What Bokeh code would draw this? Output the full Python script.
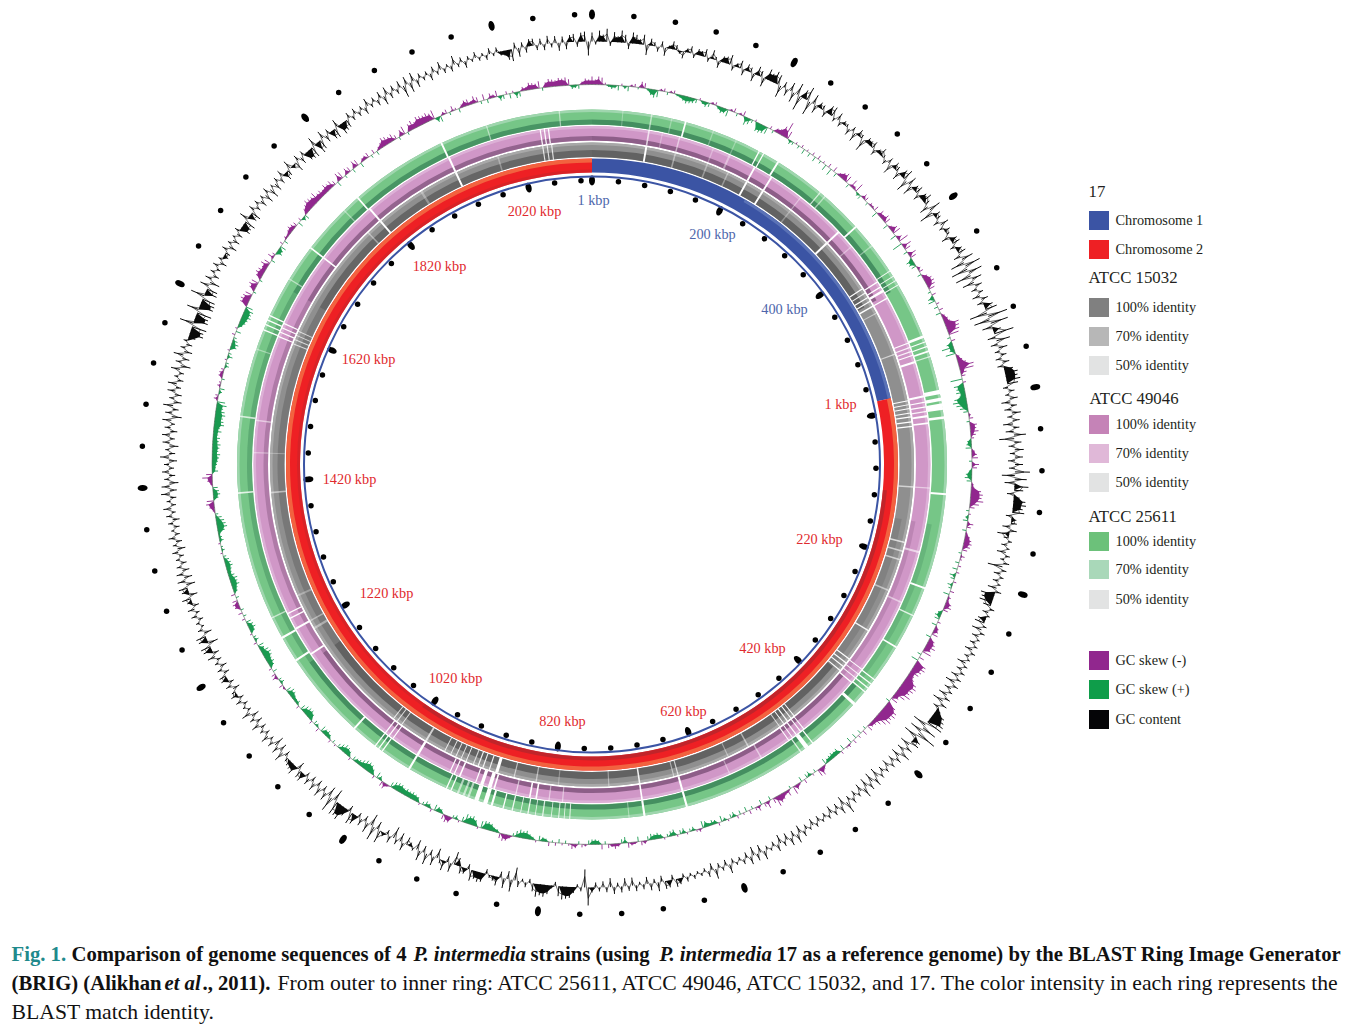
import numpy as np
from bokeh.core.properties import value
from bokeh.embed import file_html
from bokeh.models import Range1d
from bokeh.plotting import figure
from bokeh.resources import INLINE

# ---------- data ----------
# GC content, signed deflection (outward +) every 0.5 degrees, clockwise from 12 o'clock
gc_000 = [9,-3,11,7,13,-4,10,6,12,8,-6,11,9,5,10,-10,7,4,-5,6,-8,3,8,5,-3,-7,4,7,-4,6,5,8,-4,9,3,-7,6,7,10,-5,4,8,-6,7,5,-8,9,6,-9,11,8,12,10,-12,6,-7,9,-10,12,-15]
gc_030 = [9,14,-14,10,-8,6,5,-6,9,10,-4,8,-5,4,3,-7,5,-9,7,4,-12,6,5,7,-6,4,8,3,-5,6,-10,7,5,-8,8,11,-12,9,-10,6,8,-6,7,10,5,-9,12,-14,7,5,-6,9,-4,6,3,-8,7,8,-5,6]
gc_060 = [8,-7,12,-14,16,-17,14,-16,10,-12,7,-6,5,-8,7,-6,9,12,-18,20,-16,18,-10,8,20,-8,14,-7,9,-5,6,-6,7,-6,9,13,12,14,11,-5,6,-4,8,-9,6,-7,9,-5,7,-10,6,-8,12,-15,7,-6,9,-5,8,-7]
gc_090 = [8,-6,15,-13,12,-10,14,9,-7,6,12,13,10,12,-6,5,6,-8,7,-12,-5,4,-6,3,-9,5,-4,6,-15,5,-7,4,-6,3,-9,6,-14,-12,-13,-8,5,-6,3,-8,-10,4,-10,5,-7,3,-6,4,-8,5,-5,3,-9,4,-6,5]
gc_120 = [-8,5,-10,6,-7,4,-9,6,-11,7,-6,5,12,14,16,17,-14,15,-12,20,-14,8,9,-10,7,-8,10,-9,6,-7,5,-8,4,-6,5,-10,8,-10,7,-9,10,-8,4,-6,6,-5,12,-9,8,-6,5,-8,4,-5,3,-6,4,-7,3,-5]
gc_150 = [6,-8,9,-6,8,-7,5,-9,7,-5,3,-4,9,-8,7,-9,8,-6,5,-4,3,-5,9,-6,4,-5,10,-7,6,-4,3,-3,4,-3,5,-4,6,8,-5,7,8,-6,9,-4,7,-7,5,-3,6,-8,5,-8,6,-4,7,-9,5,-6,4,-5]
gc_180 = [5,18,-18,4,-3,6,11,12,13,10,-4,3,9,12,11,13,8,-4,5,-3,6,-13,12,-8,10,-6,9,5,3,-5,9,10,8,11,-5,6,7,-8,-13,9,-6,10,4,-10,9,-6,11,-7,10,-10,3,-4,-8,8,-9,5,-12,7,-5,4]
gc_210 = [13,-8,14,-12,10,-6,7,-5,10,12,-6,8,15,13,14,-12,15,-10,8,-6,9,-7,8,-6,7,-5,9,8,-8,10,7,6,4,-6,10,-8,7,-10,6,-4,8,-5,4,-6,8,-7,5,-8,9,-4,3,-5,6,-5,7,4,-7,6,-5,7]
gc_240 = [7,-6,5,-7,4,-5,8,-6,9,10,-10,9,10,-8,5,-3,4,-5,6,-4,7,-6,5,9,-8,7,9,-9,8,-8,7,-7,5,-6,4,-5,6,-8,4,-6,7,-5,3,-6,5,-7,6,-4,8,-5,4,-6,9,-7,8,-9,5,-6,7,-5]
gc_270 = [5,-8,9,-6,4,-9,7,-5,8,-7,6,-4,9,-10,7,-6,10,-8,5,-7,8,-5,9,-6,4,-5,9,-10,6,-7,10,-8,5,-6,4,-7,-14,-13,-15,14,-14,-13,-15,12,-14,-14,-13,14,-12,-11,9,-10,7,-6,5,-4,6,-7,4,-5]
gc_300 = [-5,6,-8,4,-7,3,-6,5,-10,-9,-11,9,-8,-10,6,-5,5,-7,4,-9,6,-10,3,-8,5,-6,7,-8,-6,9,-4,-10,6,-7,5,-9,-10,-11,9,-12,-10,8,-7,5,-9,-10,8,-11,-9,-8,6,-5,6,-5,4,-7,8,-4,5,-6]
gc_330 = [7,-9,8,-6,6,-5,7,-12,8,-10,9,-8,5,-4,4,-7,6,-4,8,-5,3,-6,9,-4,5,-7,4,-3,6,-4,3,-5,6,-3,5,-4,-5,-10,-12,6,-9,5,-6,7,7,-5,6,-6,8,-4,7,-8,6,-7,7,8,-5,9,10,-14]
# GC skew, signed deflection: negative skew outward (+), positive skew inward (-)
sk_000 = [8,5,8,7,2,-2,-4,-3,-5,2,-3,-5,2,3,-2,6,5,-2,-6,-8,-7,2,3,-3,2,3,-2,-3,-5,-7,-6,-5,-4,2,-3,-5,-4,2,3,-3,-6,-5,-7,2,4,-3,2,5,-8,-6,-3,2,-9,-9,-8,-7,3,-3,4,5]
sk_030 = [10,16,8,-4,-3,2,-3,3,-5,2,-4,3,-5,4,-3,2,-6,4,-7,5,-4,3,6,8,7,-4,8,3,9,-3,-4,5,4,-3,3,2,5,-6,6,4,7,6,-5,3,7,8,-6,5,10,-10,9,6,-4,8,6,-7,-6,-5,3,4]
sk_060 = [-4,5,8,9,8,6,-3,4,-6,-7,3,-4,4,-5,3,5,6,14,13,12,10,-3,4,-6,-12,-5,-10,3,5,8,15,14,6,4,-12,3,-10,-8,-9,-6,-12,-14,-11,-8,-5,2,4,-3,7,6,8,5,3,-4,-5,-6,3,5,6,-3]
sk_090 = [7,5,-3,-6,-7,-5,2,3,10,12,11,13,9,5,-3,2,-3,-5,6,4,-4,2,5,7,8,7,5,-3,4,2,-4,3,-5,3,-6,-4,3,-5,-3,4,-6,3,2,6,7,5,-4,-6,-5,3,-5,4,5,6,-5,6,8,10,7,9]
sk_120 = [-4,5,-7,11,12,10,9,6,8,13,15,14,12,15,11,6,7,-4,10,14,15,13,15,12,8,5,4,6,-3,5,-4,3,-5,4,-6,3,2,-5,3,-6,-5,-6,-5,-4,-6,3,8,7,-3,2,-5,-4,4,-5,2,5,8,-3,6,3]
sk_150 = [6,8,10,5,-4,7,4,-5,5,3,-3,4,-5,2,-4,3,-5,-4,2,-3,-6,3,-4,-5,-3,-6,-7,3,2,-4,-3,2,-5,-4,2,-6,-5,-3,2,-4,-6,-5,-6,-4,3,4,-5,2,3,5,-6,-4,3,5,3,4,-3,5,-4,-5]
sk_180 = [-5,-4,2,3,-3,4,5,2,-3,2,-4,3,-2,4,-3,-4,-5,2,-3,-5,-8,-7,-8,-6,-3,3,6,7,5,-3,-4,-7,-8,-8,-7,2,-6,-9,-8,-9,-5,2,-4,-3,6,7,5,-4,-5,-6,3,-4,-5,-3,2,-5,-6,-7,-6,-7]
sk_210 = [-6,-8,-8,-7,-5,2,6,5,-4,-6,3,-5,-8,-9,-9,-7,-5,-4,-4,3,-5,-7,-8,-6,-4,2,-3,3,-4,-6,-5,-6,4,-3,-4,3,-6,-8,-8,-7,-5,3,-4,-3,-4,-6,-7,-5,2,4,-4,-3,5,4,-4,3,-5,-7,-6,-8]
sk_240 = [-9,-8,-5,-6,3,-4,-3,2,-5,-7,-6,-5,3,-3,4,-3,5,6,5,-3,4,-4,-5,-8,-7,-8,-6,-4,-5,-7,-6,-5,-3,2,-3,-2,2,-4,-3,-2,-7,-10,-9,-8,-6,-3,2,5,8,7,-5,-7,-6,-5,2,5,10,6,-6,-4]
sk_270 = [-5,-6,-7,-8,-6,-7,-8,-6,-7,-5,-8,-6,-10,-9,-8,-10,-9,-7,-10,-8,4,3,-3,-5,3,2,-3,4,4,3,-4,-3,2,-5,-3,2,-6,-7,-5,-3,3,-5,2,-4,-6,-7,-9,-8,-9,-7,8,9,8,7,-3,6,8,7,-3,6]
sk_300 = [8,7,5,8,6,-4,6,3,-6,-5,-6,3,-4,3,2,4,6,5,4,-5,3,-4,-5,5,7,10,9,8,10,6,7,5,8,6,7,4,-5,8,7,-3,6,5,-4,7,6,-5,3,4,5,-3,4,-4,3,5,9,8,6,7,4,-3]
sk_330 = [6,8,-3,7,9,6,10,9,8,9,7,9,-5,-6,3,4,-3,5,2,-4,3,6,6,3,7,5,-3,6,-4,5,3,6,-5,-4,3,-5,2,-6,-5,4,3,7,6,5,7,-3,5,8,7,6,8,7,8,6,-4,-3,-4,3,6,5]

# BLAST gaps per ring: (clock angle, width in degrees, opacity)
gaps_green = [(9.7,.35,.55),(15.3,.4,1),(13,.3,.3),(5,.25,.3),(20,.3,.3),(24,.3,.3),(28.1,.3,1),(28.9,.3,1),(31.6,.45,1),(40,.3,.7),(41,.3,.5),(48,.45,1),(52,.3,.4),(57,.25,.9),(58,.25,.9),(58.8,.25,.9),(59.6,.25,.9),(68.9,.6,1),(69.8,.3,1),(70.6,.3,1),(71.4,.4,1),(72.3,.3,.7),(78.2,1.0,1),(79.4,.8,1),(80.6,1.5,1),(82.4,.6,1),(94.8,.5,1),(110.4,.45,1),(115.2,.35,.8),(121,.4,1),(127.3,.3,1),(128.2,.3,1),(129,.3,1),(129.8,.3,1),(132.4,.7,1),(141.6,.3,1),(142.8,1.0,1),(144,.3,.8),(164.5,.5,1),(171.5,.5,1),(174,.25,.4),(183.6,.25,.8),(184.5,.2,.8),(185.4,.25,.8),(186.6,.2,.8),(188,.3,.8),(189.2,.2,.8),(190.4,.3,.9),(191.6,.2,.9),(193,.3,.9),(194.5,.3,1),(196.4,.5,1),(197.5,1.0,1),(199,1.0,1),(200.4,.5,.6),(201.2,.5,.6),(202.2,.5,.6),(203.4,.3,1),(204.2,.3,1),(211,.5,1),(216.2,.3,1),(216.9,.3,1),(217.6,.3,1),(222,.45,1),(236.5,.5,1),(240.8,.5,1),(244.4,.35,.6),(265.4,.4,.8),(277.8,.4,.7),(289,.3,.4),(292.3,.3,1),(293.2,.3,1),(294,.3,1),(294.8,.3,1),(301.5,.3,.5),(307.6,.4,1),(315.7,.3,.4),(318.7,.4,1),(334.9,.45,1),(342.7,.3,.5),(354.7,.3,.5)]
gaps_pink = [(9.7,.4,.7),(15,.35,.5),(12,.3,.3),(21,.35,.3),(24,.5,.4),(28.7,.45,1),(32,.45,1),(38,.3,.4),(46.7,.5,1),(50,.3,.4),(57.4,.3,1),(58.4,.3,1),(59.2,.6,1),(60.6,.3,1),(69,.3,1),(69.8,.3,.9),(70.5,.3,.9),(71.2,.3,1),(72.4,.5,1),(78.4,.5,1),(79.4,.3,1),(80.2,.3,1),(81,.3,.9),(81.8,.5,1),(83,.4,1),(94,.3,.5),(105,.5,.6),(114,.4,.5),(127.2,.25,1),(128.2,.25,.9),(129,.25,.9),(130,.3,1),(141.3,.25,1),(142,.25,1),(142.9,.3,1),(143.7,.25,1),(144.5,.25,1),(150,.35,.5),(156,.3,.4),(164.5,.5,1),(171.5,.4,1),(185,.3,.5),(187.3,.3,.5),(189.5,.4,1),(190.6,.4,1),(193,.3,.6),(196.8,.4,1),(197.6,.9,1),(199,.8,1),(200.1,.3,1),(203,.4,1),(204,.3,1),(204.8,.3,1),(211,.6,1),(216,.3,1),(216.8,.3,1),(217.6,.3,1),(236,.45,1),(241,.5,1),(243,.3,1),(243.9,.3,1),(272,.3,.4),(277.5,.35,.5),(292.2,.3,1),(293,.3,1),(293.8,.3,1),(294.6,.3,1),(307.6,.4,1),(319,.5,1),(335,.5,1),(351.2,.3,1),(351.9,.3,1),(352.6,.3,1)]
gaps_grey = [(9.7,.5,1),(15,.4,.4),(21,.4,.35),(25,.4,.35),(28.7,.5,1),(32,.5,1),(38,.4,.3),(46.7,.55,1),(57,.3,1),(57.9,.3,.9),(58.8,.3,1),(59.6,.3,1),(60.6,.4,1),(62,.3,.5),(70,.35,.6),(78.6,.3,1),(79.3,.25,1),(80,.25,1),(80.8,.25,1),(81.5,.3,1),(82.4,.3,1),(83.2,.3,1),(94,.4,.6),(104,.4,.7),(105.6,.4,.6),(107.2,.4,.6),(113,.4,.5),(121,.35,.9),(127.1,.3,1),(128,.3,1),(128.8,.3,1),(129.7,.3,1),(141.2,.25,1),(141.9,.25,1),(142.7,.3,1),(143.5,.25,1),(144.4,.25,.7),(151,.4,.5),(155,.3,.4),(164.5,.3,.7),(165.3,.3,.5),(171.5,.4,.9),(177,.3,.4),(186,.3,.3),(190,.35,.5),(194,.3,.6),(197.2,.8,1),(198.6,.3,.9),(199.8,.3,.9),(200.7,.3,.9),(201.6,.3,.7),(203,.25,.9),(204,.25,.8),(205,.25,.8),(206,.25,.8),(207.2,.25,.8),(211,.5,.7),(216.2,.25,.8),(217.2,.25,.8),(218,.25,.8),(239.5,.6,.4),(241,.4,.4),(246,.5,.3),(265,.4,.5),(272,.3,.3),(292,.25,.7),(292.8,.25,.7),(293.6,.25,.7),(294.4,.25,.7),(316,.4,.4),(319,.5,1),(335,.5,1),(328,.6,.3),(343,.4,.3),(351.2,.3,.8),(352,.3,.8),(352.8,.3,.8)]

tick_step_kbp = 40
genome_kbp = 2697
chr1_end_deg = 77.5
map_labels = ["1 kbp","200 kbp","400 kbp","1 kbp","220 kbp","420 kbp","620 kbp","820 kbp","1020 kbp","1220 kbp","1420 kbp","1620 kbp","1820 kbp","2020 kbp"]
map_label_x = [593,712,784,840,819,762,683,562,455,386,349,368,439,534]
map_label_y = [199,233,308,403,538,647,710,720,677,592,478,358,265,210]
map_label_colors = ["#4e66ab"]*3 + ["#df2a2e"]*11

legend_heads = ["17","ATCC 15032","ATCC 49046","ATCC 25611"]
legend_heads_x = [1088,1088,1089,1088]
legend_heads_y = [191,277,398,516]
legend_rows = ["Chromosome 1","Chromosome 2","100% identity","70% identity","50% identity","100% identity","70% identity","50% identity","100% identity","70% identity","50% identity","GC skew (-)","GC skew (+)","GC content"]
legend_rows_y = [219,248,306,335,364,423,452,481,540,568,598,659,688,718]
legend_colors = ["#3b54a4","#ee2024","#808080","#b7b7b7","#e2e3e3","#c583b7","#e0b8d8","#e2e3e3","#6cc17a","#a9d8b9","#e2e3e3","#91278e","#0f9d4a","#050507"]

# ---------- page geometry ----------
W, H = 1362, 1027
CX, CY = 591.5, 464
def Y(py): return H - py
gc_r, sk_r = 423, 380

p = figure(width=W, height=H, x_range=Range1d(0, W), y_range=Range1d(0, H),
           toolbar_location=None, output_backend="svg", min_border=0)
p.axis.visible = False
p.grid.visible = False
p.outline_line_color = None
p.background_fill_color = "white"
p.border_fill_color = "white"

def ang(t):
    return np.pi / 2 - np.radians(np.asarray(t, dtype=float))
def polar(t, r):
    a = ang(t)
    return CX + np.asarray(r) * np.cos(a), Y(CY) + np.asarray(r) * np.sin(a)
def ring(r0, r1, t0, t1, color, alpha=1.0):
    p.annular_wedge(x=CX, y=Y(CY), inner_radius=r0, outer_radius=r1,
                    start_angle=float(ang(t0)), end_angle=float(ang(t1)), direction="clock",
                    fill_color=color, fill_alpha=alpha, line_color=None)

# scale dots
kb_per_deg = 200 / 26.7
ticks = np.arange(0, genome_kbp, tick_step_kbp)
big = ticks % 200 == 0
for r in (284, 450):
    xs, ys = polar(ticks[~big] / kb_per_deg, r)
    p.scatter(xs, ys, size=5.5, color="black", line_color=None)
    xs, ys = polar(ticks[big] / kb_per_deg, r)
    p.ellipse(xs, ys, width=10, height=6, angle=ang(ticks[big] / kb_per_deg), color="black", line_color=None)

# inner blue line
p.circle(x=CX, y=Y(CY), radius=288, fill_color=None, line_color="#3b54a4", line_width=2)

# chromosome ring
ring(292, 306, 0, chr1_end_deg, "#3b54a4")
ring(303, 306, 30, chr1_end_deg, "#5a72b6")
ring(292, 306, chr1_end_deg, 360, "#ee2024")
ring(302, 306, chr1_end_deg, 360, "#f2623f")
ring(292, 296, 95, 215, "#b8262b", 0.85)
ring(292, 295, 215, 360, "#c9252a", 0.6)

# BLAST rings: (inner radius, outer radius, main, outer edge, dark inner, dark width, gap list)
rings = [(307.5, 322, "#8f8f8f", "#a8a8a8", "#626262", 7, gaps_grey),
         (324, 338.5, "#d097c7", "#dcb0d6", "#8d5e88", 4.5, gaps_pink),
         (340, 355, "#76c687", "#9fd6ae", "#448f60", 5, gaps_green)]
dark_spans = [(0, 60, 1.0), (60, 100, 0.0), (100, 130, 0.3), (130, 235, 1.0), (235, 300, 0.5), (300, 360, 0.9)]
for r0, r1, main, edge, dark, dw, gl in rings:
    ring(r0, r1, 0, 180, main)
    ring(r0, r1, 180, 360, main)
    ring(r1 - 2.5, r1, 0, 180, edge)
    ring(r1 - 2.5, r1, 180, 360, edge)
    for a, b, op in dark_spans:
        if op > 0:
            ring(r0, r0 + dw, a, b, dark, op)
    for t, w, op in gl:
        ww = w * 0.7
        ring(r0 - 0.5, r1 + 0.5, t - ww / 2, t + ww / 2, "white", op)

# GC content and skew tracks: needle per value, a zigzag through the tips, solid body where neighbours share a sign
gc = np.array(gc_000 + gc_030 + gc_060 + gc_090 + gc_120 + gc_150 + gc_180 + gc_210 + gc_240 + gc_270 + gc_300 + gc_330, dtype=float)
sk = np.array(sk_000 + sk_030 + sk_060 + sk_090 + sk_120 + sk_150 + sk_180 + sk_210 + sk_240 + sk_270 + sk_300 + sk_330, dtype=float)
th = np.arange(len(gc)) * 0.5

def body(vals):
    nxt = np.roll(vals, -1)
    same = np.sign(vals) == np.sign(nxt)
    return np.where(same, np.sign(vals) * np.minimum(np.abs(vals), np.abs(nxt)), 0.0)

def track(base, vals, color, needle, fill_scale):
    tt = np.append(th, 360.0)
    b = body(vals) * fill_scale
    b = np.append(b, b[0])
    x1, y1 = polar(tt, base + b)
    x0, y0 = polar(tt[::-1], np.full(tt.size, float(base)))
    p.patch(np.concatenate([x1, x0]), np.concatenate([y1, y0]), fill_color=color, line_color=None)
    xa, ya = polar(th, np.full(th.size, float(base)))
    xb, yb = polar(th, base + vals)
    p.segment(xa, ya, xb, yb, line_color=color, line_width=needle)

track(gc_r, gc, "#0a0a0a", 1.0, 0.8)
zx, zy = polar(np.append(th, 360.0), gc_r + np.append(gc, gc[0]) * 0.6)
p.line(zx, zy, line_color="#0a0a0a", line_width=0.6)

sk_pos = np.maximum(sk, 0)
sk_neg = np.minimum(sk, 0)
track(sk_r, sk_pos, "#91278e", 0.9, 0.8)
track(sk_r, sk_neg, "#1a9a50", 0.9, 0.8)
p.circle(x=CX, y=Y(CY), radius=sk_r, fill_color=None, line_color="#5c6f5f", line_width=0.6)

SERIF = value("Liberation Serif")
# map labels
p.text(map_label_x, [Y(v) for v in map_label_y], text=map_labels, text_color=map_label_colors, text_font=SERIF,
       text_font_size="14.3px", text_align="center", text_baseline="middle")
# legend
p.rect([1098.5] * len(legend_rows_y), [Y(v + 1) for v in legend_rows_y], width=20, height=19, fill_color=legend_colors, line_color=None)
p.text([1115] * len(legend_rows), [Y(v) for v in legend_rows_y], text=legend_rows, text_color="#231f20", text_font=SERIF,
       text_font_size="14.3px", text_align="left", text_baseline="middle")
p.text(legend_heads_x, [Y(v) for v in legend_heads_y], text=legend_heads, text_color="#231f20", text_font=SERIF,
       text_font_size="16.8px", text_align="left", text_baseline="middle")

# caption
def run(x, py, s, style="normal", color="#111111", size="20.7px"):
    p.text([x], [Y(py)], text=[s], text_font=SERIF, text_font_style=style, text_color=color,
           text_font_size=size, text_align="left", text_baseline="middle")
run(11, 953, "Fig. 1.", "bold", "#1f8a8c")
run(71, 953, "Comparison of genome sequences of 4", "bold")
run(413, 953, "P. intermedia", "bold italic")
run(530, 953, "strains (using", "bold")
run(659, 953, "P. intermedia", "bold italic")
run(776, 953, "17 as a reference genome) by the BLAST Ring Image Generator", "bold")
run(11, 982, "(BRIG) (Alikhan", "bold")
run(164, 982, "et al", "bold italic")
run(202, 982, "., 2011).", "bold")
run(277, 982, "From outer to inner ring: ATCC 25611, ATCC 49046, ATCC 15032, and 17. The color intensity in each ring represents the", size="21.7px")
run(11, 1011, "BLAST match identity.", size="21.7px")

open("out.html", "w").write(file_html(p, INLINE))
